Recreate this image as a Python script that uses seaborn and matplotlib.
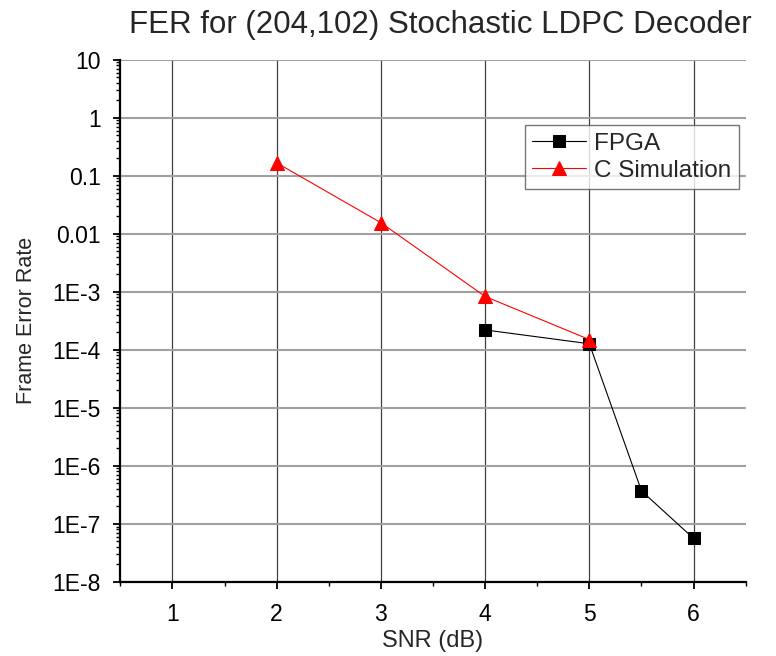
import matplotlib
matplotlib.use("Agg")
import matplotlib.pyplot as plt
import numpy as np
import pandas as pd
import seaborn as sns
from matplotlib.ticker import MultipleLocator, LogLocator, NullFormatter

snr_fpga = [4, 5, 5.5, 6]
fer_fpga = [2.2e-4, 1.27e-4, 3.7e-7, 5.6e-8]

snr_csim = [2, 3, 4, 5]
fer_csim = [0.167, 0.0155, 8.3e-4, 1.5e-4]

ytick_vals = [1e-8, 1e-7, 1e-6, 1e-5, 1e-4, 1e-3, 0.01, 0.1, 1, 10]
ytick_labels = ["1E-8", "1E-7", "1E-6", "1E-5", "1E-4", "1E-3", "0.01", "0.1", "1", "10"]
xtick_vals = [1, 2, 3, 4, 5, 6]

sns.set_style("white")
plt.rcParams["font.family"] = ["Liberation Sans", "DejaVu Sans"]

fpga = pd.DataFrame({"snr": snr_fpga, "fer": fer_fpga})
csim = pd.DataFrame({"snr": snr_csim, "fer": fer_csim})

fig = plt.figure(figsize=(7.76, 6.56), dpi=100)
ax = fig.add_axes([0.155, 0.113, 0.806, 0.796])

sns.lineplot(data=fpga, x="snr", y="fer", ax=ax, color="black", lw=0.8,
             marker="s", markersize=8, markeredgecolor="black", label="FPGA")
sns.lineplot(data=csim, x="snr", y="fer", ax=ax, color="red", lw=0.8,
             marker="^", markersize=10, markeredgecolor="red", label="C Simulation")

ax.set_yscale("log")
ax.set_xlim(0.5, 6.5)
ax.set_ylim(1e-8, 10)
ax.set_xticks(xtick_vals)
ax.xaxis.set_minor_locator(MultipleLocator(0.5))
ax.set_yticks(ytick_vals)
ax.set_yticklabels(ytick_labels)
ax.yaxis.set_minor_locator(LogLocator(base=10, subs=np.arange(2, 10), numticks=20))
ax.yaxis.set_minor_formatter(NullFormatter())

ax.grid(True, which="major", axis="x", color="#404040", lw=0.9)
ax.grid(True, which="major", axis="y", color="#a0a0a0", lw=1.5)
ax.set_axisbelow(True)

for s in ["top", "right"]:
    ax.spines[s].set_visible(False)
for s in ["left", "bottom"]:
    ax.spines[s].set_color("black")
    ax.spines[s].set_linewidth(1.6)

ax.tick_params(which="major", direction="out", length=5, width=1.3, labelsize=16.5,
               bottom=True, left=True, colors="black")
ax.tick_params(axis="x", which="major", pad=10)
ax.tick_params(axis="y", which="major", pad=9)
ax.tick_params(which="minor", direction="out", length=3, width=1.0,
               bottom=True, left=True, colors="black")

ax.set_xlabel("SNR (dB)", fontsize=17, labelpad=3)
ax.set_ylabel("Frame Error Rate", fontsize=15.5, labelpad=11)
ax.set_title("FER for (204,102) Stochastic LDPC Decoder", fontsize=22.5, pad=19, x=0.512)

leg = ax.legend(loc="upper right", bbox_to_anchor=(0.989, 0.874), fontsize=17.5,
                frameon=True, fancybox=False, borderpad=0.3, borderaxespad=0,
                handlelength=2.2, labelspacing=0.2, handletextpad=0.35)
leg.get_frame().set_edgecolor("#555555")
leg.get_frame().set_linewidth(1.0)

fig.savefig("out.png", dpi=100)
